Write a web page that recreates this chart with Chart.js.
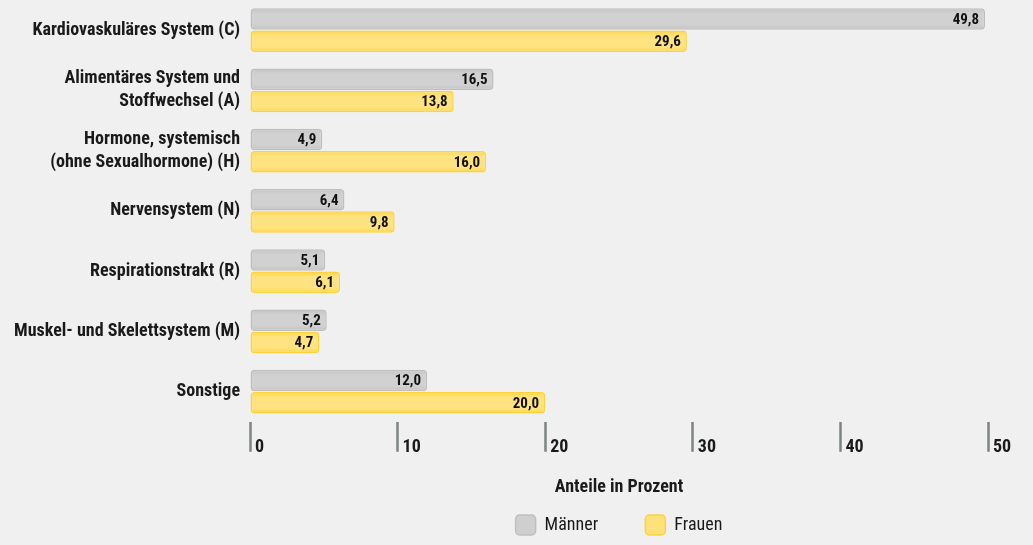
<!DOCTYPE html>
<html lang="de">
<head>
<meta charset="utf-8">
<title>Verordnungsanteile nach Wirkstoffgruppen</title>
<script src="https://cdn.jsdelivr.net/npm/chart.js@4/dist/chart.umd.min.js"></script>
<style>
  html, body { margin: 0; padding: 0; background: #f0f0f0; }
  #wrap { width: 1033px; height: 545px; position: relative; }
</style>
</head>
<body>
<div id="wrap"><canvas id="chart"></canvas></div>
<script>
// Wirkstoffgruppen (ATC-Hauptgruppen)
const categories = [
  'Kardiovaskuläres System (C)',
  ['Alimentäres System und', 'Stoffwechsel (A)'],
  ['Hormone, systemisch', '(ohne Sexualhormone) (H)'],
  'Nervensystem (N)',
  'Respirationstrakt (R)',
  'Muskel- und Skelettsystem (M)',
  'Sonstige'
];
// Anteile in Prozent
const maenner = [49.8, 16.5, 4.9, 6.4, 5.1, 5.2, 12.0];
const frauen  = [29.6, 13.8, 16.0, 9.8, 6.1, 4.7, 20.0];
const seriesNames = ['Männer', 'Frauen'];
const xTicks = [0, 10, 20, 30, 40, 50];

const FONT = "'Roboto Condensed', 'PT Sans Narrow', 'DejaVu Sans Condensed', sans-serif";
const fmt = v => v.toFixed(1).replace('.', ',');

// Farbverlauf je Balken: Ränder etwas dunkler als die Mitte
const shades = [
  { edge: '#c3c3c3', mid: '#d1d1d1' },
  { edge: '#ffd646', mid: '#ffe380' }
];
const barShading = {
  id: 'barShading',
  beforeDatasetsDraw(chart) {
    const ctx = chart.ctx;
    chart.data.datasets.forEach((ds, i) => {
      const s = shades[i];
      chart.getDatasetMeta(i).data.forEach(bar => {
        const top = bar.y - bar.height / 2;
        const g = ctx.createLinearGradient(0, top, 0, top + bar.height);
        g.addColorStop(0, s.edge);
        g.addColorStop(0.25, s.mid);
        g.addColorStop(0.75, s.mid);
        g.addColorStop(1, s.edge);
        bar.options = Object.assign({}, bar.options, { backgroundColor: g });
      });
    });
  }
};

// Wert am rechten Balkenende
const valueLabels = {
  id: 'valueLabels',
  afterDatasetsDraw(chart) {
    const ctx = chart.ctx;
    ctx.save();
    ctx.font = `bold 15px ${FONT}`;
    ctx.fillStyle = '#111';
    ctx.textAlign = 'right';
    ctx.textBaseline = 'middle';
    chart.data.datasets.forEach((ds, i) => {
      chart.getDatasetMeta(i).data.forEach((bar, j) => {
        ctx.fillText(fmt(ds.data[j]), bar.x - 6, bar.y + 1);
      });
    });
    ctx.restore();
  }
};

new Chart(document.getElementById('chart'), {
  type: 'bar',
  data: {
    labels: categories,
    datasets: [
      {
        label: seriesNames[0],
        data: maenner,
        backgroundColor: '#cfcfcf',
        borderColor: '#bfbfbf',
        borderWidth: 1.5,
        borderRadius: 4,
        borderSkipped: false,
        barPercentage: 0.96,
        categoryPercentage: 0.74
      },
      {
        label: seriesNames[1],
        data: frauen,
        backgroundColor: '#ffe17a',
        borderColor: '#ffd23c',
        borderWidth: 1.5,
        borderRadius: 4,
        borderSkipped: false,
        barPercentage: 0.96,
        categoryPercentage: 0.74
      }
    ]
  },
  options: {
    indexAxis: 'y',
    responsive: true,
    maintainAspectRatio: false,
    animation: false,
    layout: { padding: { top: 0, right: 45, bottom: 0, left: 0 } },
    scales: {
      x: {
        min: 0,
        max: 50,
        afterBuildTicks(scale) { scale.ticks = xTicks.map(v => ({ value: v })); },
        border: { display: false },
        grid: {
          drawOnChartArea: false,
          drawTicks: true,
          tickLength: 30,
          tickWidth: 2.5,
          tickColor: '#7d8585'
        },
        ticks: {
          align: 'start',
          labelOffset: 5,
          padding: -15,
          color: '#1a1a1a',
          font: { family: FONT, size: 18, weight: 'bold' },
          maxRotation: 0
        },
        title: {
          display: true,
          text: 'Anteile in Prozent',
          color: '#1a1a1a',
          font: { family: FONT, size: 18, weight: 'bold' },
          padding: { top: 33, bottom: 7 }
        }
      },
      y: {
        afterFit(scale) {
          scale.width = 250;
          scale.paddingTop = 0;
          scale.paddingBottom = 0;
        },
        border: { display: false },
        grid: { display: false, drawTicks: false },
        ticks: {
          padding: 10,
          color: '#1a1a1a',
          font: { family: FONT, size: 18, weight: 'bold', lineHeight: 1.28 }
        }
      }
    },
    plugins: {
      legend: {
        position: 'bottom',
        fullSize: false,
        labels: {
          boxWidth: 20,
          boxHeight: 20,
          useBorderRadius: true,
          borderRadius: 4,
          padding: 10,
          color: '#1a1a1a',
          font: { family: FONT, size: 18 },
          generateLabels(chart) {
            const items = Chart.defaults.plugins.legend.labels.generateLabels(chart);
            // Abstand zwischen den beiden Einträgen
            items.forEach((it, i) => { if (i < items.length - 1) it.text = it.text + '         '; });
            return items;
          }
        }
      },
      tooltip: { enabled: false }
    }
  },
  plugins: [barShading, valueLabels]
});
</script>
</body>
</html>
